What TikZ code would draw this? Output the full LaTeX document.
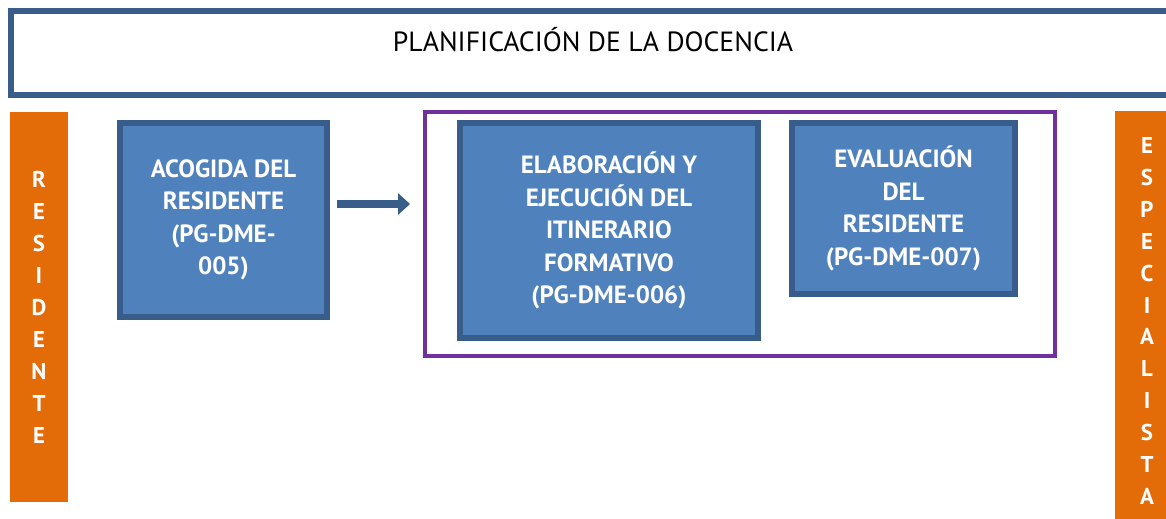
\documentclass[tikz,border=0pt]{standalone}
\usepackage{fontspec}
\setmainfont{PT Sans}
\usetikzlibrary{positioning, calc, arrows.meta}

\definecolor{azulborde}{HTML}{385D8A}
\definecolor{azulrelleno}{HTML}{4F81BD}
\definecolor{naranja}{HTML}{E36C09}
\definecolor{morado}{HTML}{7030A0}

\tikzset{
  proceso/.style={draw=azulborde, fill=azulrelleno, line width=3.4pt, text=white,
    align=center, inner sep=0pt, font=\bfseries\fontsize{14.2}{18.5}\selectfont},
  barra/.style={fill=naranja, text=white, align=center, inner sep=0pt,
    font=\bfseries\fontsize{13}{18.2}\selectfont},
  flecha/.style={draw=azulborde, line width=4.5pt, -{Triangle[length=0.24cm,width=0.42cm]}}
}

\begin{document}
\begin{tikzpicture}[x=0.02cm, y=-0.02cm]
\useasboundingbox (0,0) rectangle (1166,518);
\clip (0,0) rectangle (1166,518);

% cabecera
\node[draw=azulborde, line width=3.4pt, minimum width=23.22cm, minimum height=1.68cm, inner sep=0pt] (planif) at (591.5,53) {};
\node[font=\fontsize{15.8}{18}\selectfont] (titulo) at (593,40) {PLANIFICACIÓN DE LA DOCENCIA};

% barras laterales
\node[barra, minimum width=1.16cm, minimum height=7.8cm] (residente) at (39,307)
  {R\\E\\S\\I\\D\\E\\N\\T\\E};
\node[barra, minimum width=1.3cm, minimum height=8.4cm] (especialista) at (1147,321)
  {E\\S\\P\\E\\C\\I\\A\\L\\I\\S\\T\\A};

% procesos
\node[proceso, minimum width=4.14cm, minimum height=3.88cm] (acogida) at (223.5,220)
  {ACOGIDA DEL\\RESIDENTE\\(PG-DME-\\005)};
\node[draw=morado, line width=2.3pt, minimum width=12.6cm, minimum height=4.88cm, inner sep=0pt] (marco) at (740,234) {};
\node[proceso, minimum width=5.96cm, minimum height=4.3cm] (itinerario) at (609,230.5)
  {ELABORACIÓN Y\\EJECUCIÓN DEL\\ITINERARIO\\FORMATIVO\\(PG-DME-006)};
\node[proceso, minimum width=4.46cm, minimum height=3.42cm] (evaluacion) at (903.5,208.5)
  {EVALUACIÓN\\DEL\\RESIDENTE\\(PG-DME-007)};

\draw[flecha] ($(acogida.east)+(7,-16)$) -- ($(marco.west |- acogida.east)+(-13,-16)$);
\end{tikzpicture}
\end{document}
